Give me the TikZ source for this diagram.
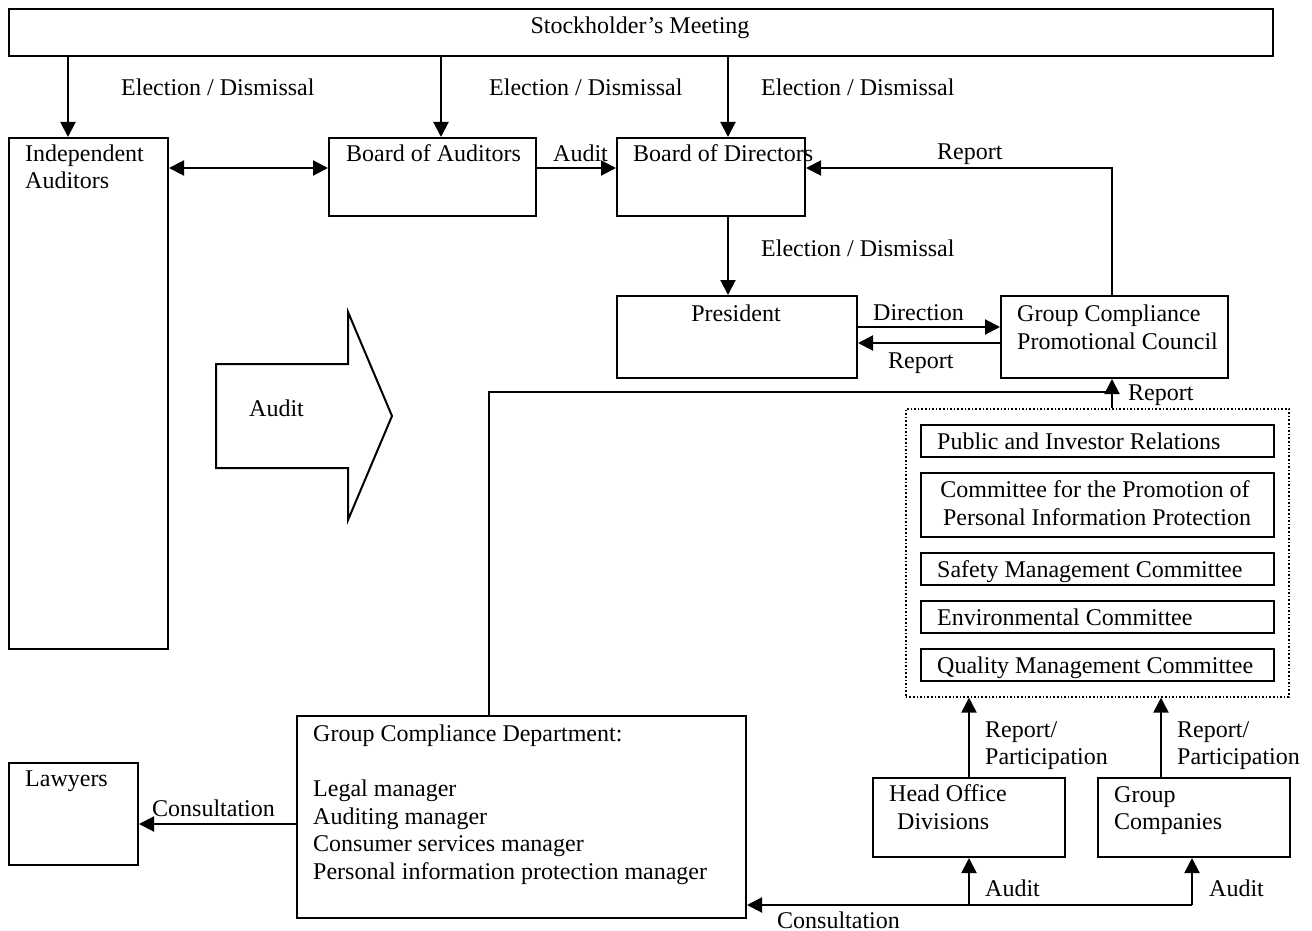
\documentclass[tikz,border=0pt]{standalone}
\usepackage{fontspec}
\setmainfont{Liberation Serif}
\usetikzlibrary{arrows.meta,calc}
\tikzset{
  bx/.style={draw, line width=2pt, inner sep=0pt, anchor=north west},
  dotbx/.style={draw, line width=1.6pt, dash pattern=on 1.6pt off 2pt, inner sep=0pt, anchor=north west},
  tx/.style={anchor=base west, inner sep=0pt, font=\fontsize{24}{28}\selectfont},
  txc/.style={anchor=base, inner sep=0pt, font=\fontsize{24}{28}\selectfont},
  ln/.style={line width=2pt},
  arr/.style={line width=2pt, -{Triangle[length=15pt,width=15pt]}},
  arrb/.style={line width=2pt, {Triangle[length=15pt,width=15pt]}-{Triangle[length=15pt,width=15pt]}},
}
\begin{document}
\begin{tikzpicture}[x=1pt,y=-1pt]
\useasboundingbox (0,0) rectangle (1312,931);
% boxes
\node[bx, minimum width=1264pt, minimum height=47pt] (sm) at (8,8) {};
\node[bx, minimum width=159pt, minimum height=511pt] (ia) at (8,137) {};
\node[bx, minimum width=207pt, minimum height=78pt] (boa) at (328,137) {};
\node[bx, minimum width=188pt, minimum height=78pt] (bod) at (616,137) {};
\node[bx, minimum width=240pt, minimum height=82pt] (pres) at (616,295) {};
\node[bx, minimum width=227pt, minimum height=82pt] (gcpc) at (1000,295) {};
\node[dotbx, minimum width=383pt, minimum height=288pt] (dot) at (905,408) {};
\node[bx, minimum width=353pt, minimum height=32pt] (c1) at (920,424) {};
\node[bx, minimum width=353pt, minimum height=64pt] (c2) at (920,472) {};
\node[bx, minimum width=353pt, minimum height=32pt] (c3) at (920,552) {};
\node[bx, minimum width=353pt, minimum height=32pt] (c4) at (920,600) {};
\node[bx, minimum width=353pt, minimum height=32pt] (c5) at (920,648) {};
\node[bx, minimum width=449pt, minimum height=202pt] (gcd) at (296,715) {};
\node[bx, minimum width=129pt, minimum height=102pt] (law) at (8,762) {};
\node[bx, minimum width=192pt, minimum height=79pt] (hod) at (872,777) {};
\node[bx, minimum width=192pt, minimum height=79pt] (gc) at (1097,777) {};
% big audit arrow
\draw[ln] (216,364) -- (348,364) -- (348,312) -- (392,416) -- (348,520) -- (348,468) -- (216,468) -- cycle;
% texts
\node[txc] (t-sm) at (640,34) {Stockholder’s Meeting};
\node[tx] (l-ed1) at (121,96) {Election / Dismissal};
\node[tx] (l-ed2) at (489,96) {Election / Dismissal};
\node[tx] (l-ed3) at (761,96) {Election / Dismissal};
\node[tx] (t-ia1) at (25,161) {Independent};
\node[tx] (t-ia2) at (25,189) {Auditors};
\node[tx] (t-boa) at (346,161) {Board of Auditors};
\node[tx] (l-aud1) at (553,161) {Audit};
\node[tx] (t-bod) at (633,161) {Board of Directors};
\node[tx] (l-rep1) at (937,160) {Report};
\node[tx] (l-ed4) at (761,256) {Election / Dismissal};
\node[txc] (t-pres) at (736,321) {President};
\node[tx] (l-dir) at (873,320) {Direction};
\node[tx] (l-rep2) at (888,368) {Report};
\node[tx] (t-gcpc1) at (1017,321) {Group Compliance};
\node[tx] (t-gcpc2) at (1017,349) {Promotional Council};
\node[tx] (l-rep3) at (1128,400) {Report};
\node[tx] (t-big) at (249,416) {Audit};
\node[tx] (t-c1) at (937,449) {Public and Investor Relations};
\node[txc] (t-c2a) at (1095,497) {Committee for the Promotion of};
\node[txc] (t-c2b) at (1097,525) {Personal Information Protection};
\node[tx] (t-c3) at (937,577) {Safety Management Committee};
\node[tx] (t-c4) at (937,625) {Environmental Committee};
\node[tx] (t-c5) at (937,673) {Quality Management Committee};
\node[tx] (t-gcd1) at (313,741) {Group Compliance Department:};
\node[tx] (t-gcd2) at (313,796) {Legal manager};
\node[tx] (t-gcd3) at (313,824) {Auditing manager};
\node[tx] (t-gcd4) at (313,851) {Consumer services manager};
\node[tx] (t-gcd5) at (313,879) {Personal information protection manager};
\node[tx] (t-law) at (25,786) {Lawyers};
\node[tx] (l-con1) at (152,816) {Consultation};
\node[tx] (l-rp1a) at (985,737) {Report/};
\node[tx] (l-rp1b) at (985,764) {Participation};
\node[tx] (l-rp2a) at (1177,737) {Report/};
\node[tx] (l-rp2b) at (1177,764) {Participation};
\node[tx] (t-hod1) at (889,801) {Head Office};
\node[tx] (t-hod2) at (897,829) {Divisions};
\node[tx] (t-gc1) at (1114,802) {Group};
\node[tx] (t-gc2) at (1114,829) {Companies};
\node[tx] (l-aud2) at (985,896) {Audit};
\node[tx] (l-aud3) at (1209,896) {Audit};
\node[tx] (l-con2) at (777,928) {Consultation};
% helper coordinates
\coordinate (x1) at (68,0);
\coordinate (x2) at (441,0);
\coordinate (x3) at (728,0);
\coordinate (ya) at (0,168);
\coordinate (yr) at (1112,392);
\coordinate (xg) at (489,0);
\coordinate (xp) at (1161,0);
\coordinate (yc) at (0,824);
\coordinate (jb) at (1192,905);
% connectors
\draw[arr] (sm.south -| x1) -- (ia.north -| x1);
\draw[arr] (sm.south -| x2) -- (boa.north -| x2);
\draw[arr] (sm.south -| x3) -- (bod.north -| x3);
\draw[arrb] (ia.east |- ya) -- (boa.west |- ya);
\draw[arr] (boa.east |- ya) -- (bod.west |- ya);
\draw[arr] (bod.south -| x3) -- (pres.north -| x3);
\draw[arr] (gcpc.north -| yr) |- (bod.east |- ya);
\draw[arr] ([yshift=10pt]pres.east) -- ([yshift=10pt]pres.east -| gcpc.west);
\draw[arr] ([yshift=-6pt]gcpc.west) -- ([yshift=-6pt]gcpc.west -| pres.east);
\draw[arr] (dot.north -| yr) -- (gcpc.south -| yr);
\draw[ln] (gcd.north -| xg) |- (yr);
\draw[arr] (gcd.west |- yc) -- (law.east |- yc);
\draw[arr] (hod.north) -- (dot.south -| hod.north);
\draw[arr] (gc.north -| xp) -- (dot.south -| xp);
\draw[arr] (jb) -- (gcd.east |- jb);
\draw[arr] (hod.south |- jb) -- (hod.south);
\draw[arr] (jb) -- (gc.south -| jb);
\end{tikzpicture}
\end{document}
